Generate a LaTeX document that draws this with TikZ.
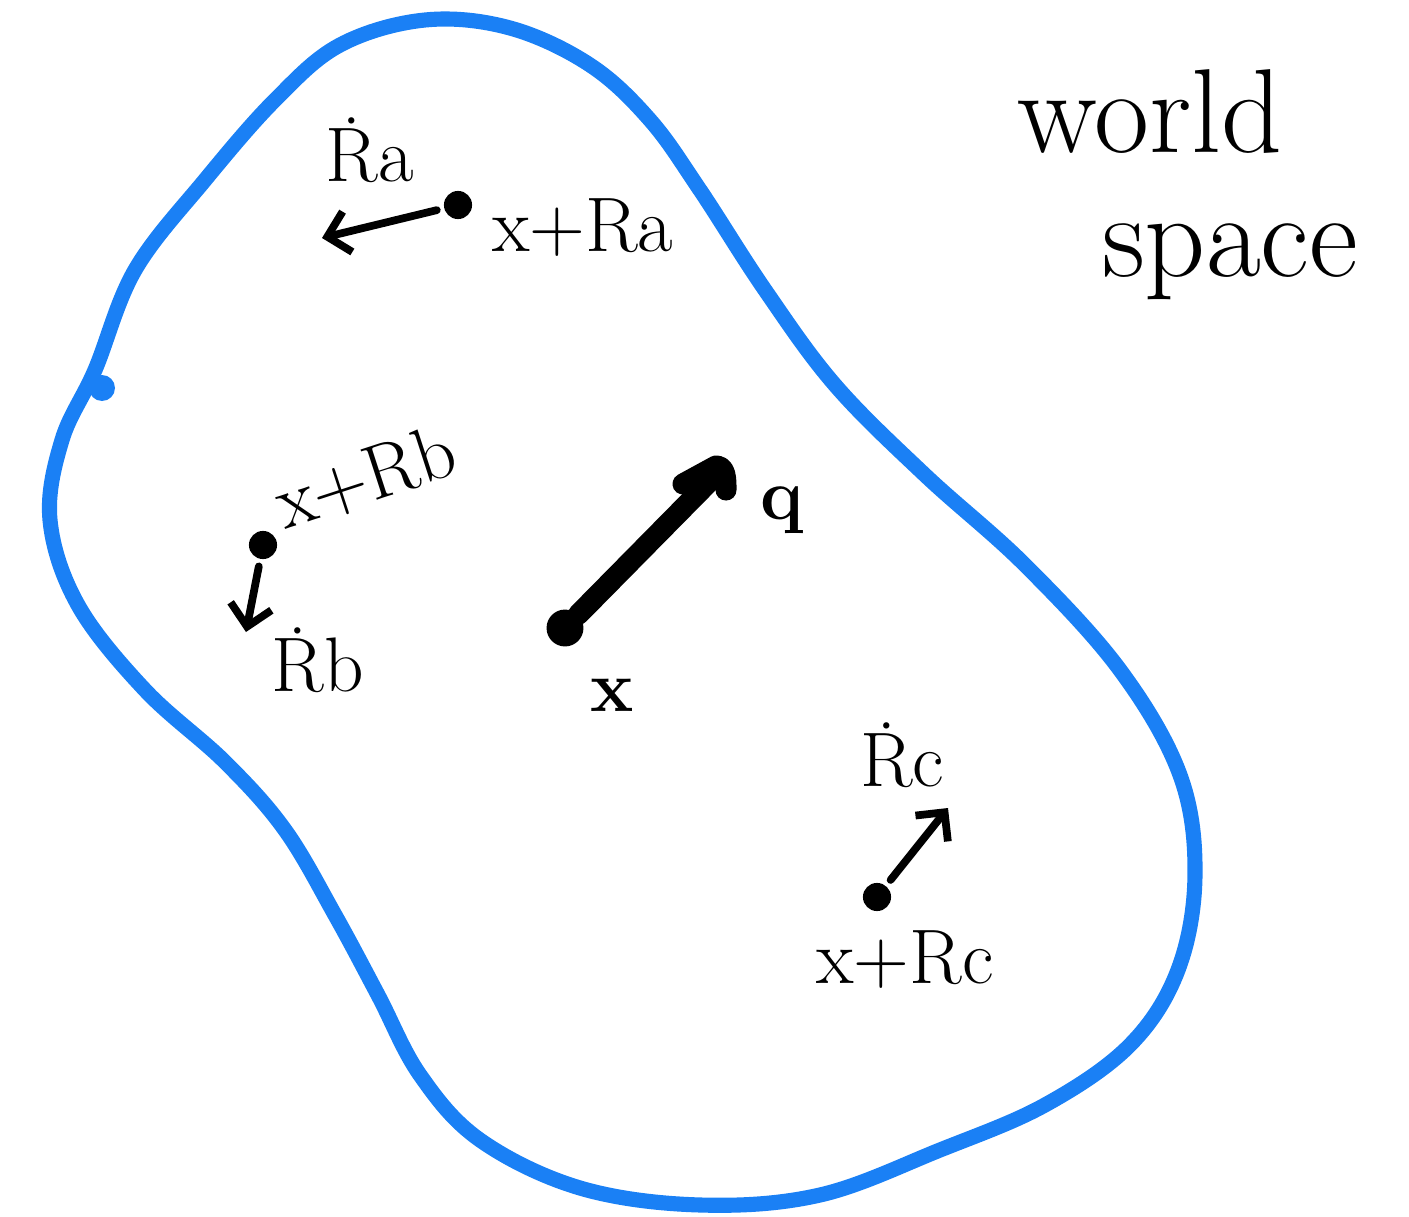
\documentclass[tikz,border=0pt]{standalone}
\usepackage{amsmath,amssymb}
\usepackage{tikz}
\usetikzlibrary{calc,arrows.meta}
\definecolor{blobblue}{HTML}{1A80F5}

\begin{document}
\begin{tikzpicture}[>=Straight Barb,x=0.1mm,y=-0.1mm,
  pt/.style={circle,fill=black,inner sep=0pt,minimum size=#1},
  lbl/.style={font=\fontsize{22}{26}\selectfont,inner sep=1pt},
  vel/.style={->,line width=2.2pt,line cap=round,shorten <=2pt},
  orient/.style={line width=6pt,line cap=round,line join=round}]
  \useasboundingbox (0,0) rectangle (1409,1217);
  % Region (blob)
  \draw[blobblue,line width=4.3pt,smooth cycle,tension=0.6] plot coordinates {
    (95,370)(135,270)(205,180)(275,100)(340,45)(425,20)(510,28)(590,65)
    (650,120)(700,190)(765,290)(835,385)(925,475)(1025,565)(1120,670)
    (1180,775)(1195,875)(1178,970)(1130,1045)(1045,1105)(940,1150)
    (820,1195)(700,1205)(580,1188)(480,1140)(420,1075)(378,995)
    (335,915)(285,830)(225,762)(145,690)(78,605)(50,520)(62,440)};
  \fill[blobblue] (102,388) circle (13);
  % Body centre and orientation
  \node[pt=10.5pt] (X) at (565,628) {};
  \coordinate (Qend) at (708,483);
  \coordinate (Hl) at (683,484);
  \coordinate (Ht) at (716,466);
  \coordinate (Hr) at (726,490);
  \draw[orient] (X) -- (Qend);
  \draw[orient] (Hl) -- (Ht) to[out=0,in=90] (Hr);
  \node[lbl] (q) at (782,510) {$\mathbf{q}$};
  \node[lbl] (x) at (612,695) {$\mathbf{x}$};
  % Point a
  \node[pt=8pt] (A) at (458,205) {};
  \coordinate (Aend) at (322,238);
  \draw[vel] (A) -- (Aend);
  \node[lbl,anchor=west] (Alab) at (488,228) {x+Ra};
  \node[lbl] (Adot) at (370,150) {\.{R}a};
  % Point b
  \node[pt=8pt] (B) at (263,545) {};
  \coordinate (Bend) at (246,632);
  \draw[vel] (B) -- (Bend);
  \node[lbl,rotate=18,anchor=south west] (Blab) at (284,540) {x+Rb};
  \node[lbl] (Bdot) at (318,660) {\.{R}b};
  % Point c
  \node[pt=8pt] (C) at (877,897) {};
  \coordinate (Cend) at (948,808);
  \draw[vel] (C) -- (Cend);
  \node[lbl] (Clab) at (905,960) {x+Rc};
  \node[lbl] (Cdot) at (902,755) {\.{R}c};
  % Caption
  \node[font=\fontsize{34}{40}\selectfont,inner sep=0pt] (world) at (1150,112) {world};
  \node[font=\fontsize{34}{40}\selectfont,inner sep=0pt] (space) at (1230,262) {space};
\end{tikzpicture}
\end{document}
